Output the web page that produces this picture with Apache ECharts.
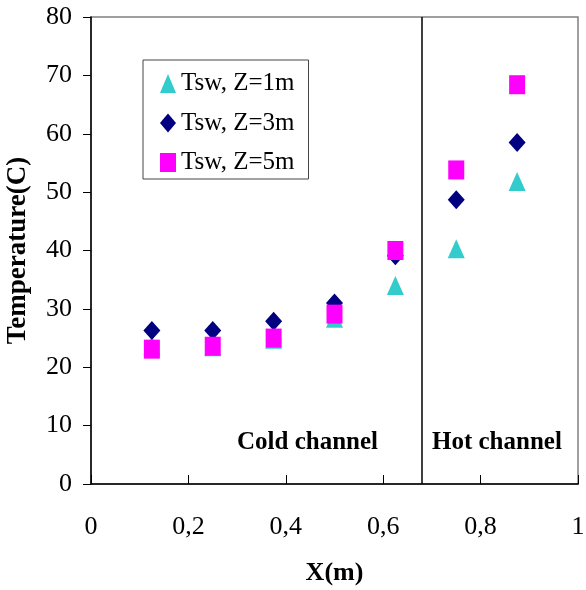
<!DOCTYPE html>
<html>
<head>
<meta charset="utf-8">
<script src="https://cdn.jsdelivr.net/npm/echarts@6/dist/echarts.min.js"></script>
<style>
  html, body { margin: 0; padding: 0; background: #fff; }
  #chart { width: 586px; height: 590px; }
</style>
</head>
<body>
<div id="chart"></div>
<script>
// positions along the channel (m)
const xPos = [0.125, 0.25, 0.375, 0.5, 0.625, 0.75, 0.875];
// wall temperature at each height
const tswZ1 = [23.7, 23.5, 24.8, 28.4, 34.0, 40.3, 51.8];
const tswZ3 = [26.3, 26.3, 27.9, 31.0, 39.1, 48.7, 58.5];
const tswZ5 = [23.1, 23.6, 25.0, 29.1, 40.0, 53.8, 68.4];
const seriesNames = ["Tsw, Z=1m", "Tsw, Z=3m", "Tsw, Z=5m"];
const dividerX = 0.677;

const font = "'Liberation Serif', 'Times New Roman', serif";
const pairs = vals => vals.map((v, i) => [xPos[i], v]);

const chart = echarts.init(document.getElementById("chart"));
chart.setOption({
  animation: false,
  grid: {
    left: 91, right: 8, top: 17, bottom: 106,
    outerBoundsMode: "none",
    show: true,
    borderColor: "#808080",
    borderWidth: 1.5,
  },
  legend: {
    orient: "vertical",
    left: 143,
    top: 60,
    padding: [11, 14, 4, 17],
    itemGap: 14.5,
    itemWidth: 16,
    itemHeight: 19,
    borderColor: "#444",
    borderWidth: 1,
    data: [
      { name: seriesNames[0], icon: "triangle" },
      { name: seriesNames[1], icon: "diamond" },
      { name: seriesNames[2], icon: "rect" },
    ],
    textStyle: {
      fontFamily: font,
      fontSize: 25,
      color: "#000",
    },
  },
  xAxis: {
    type: "value",
    min: 0,
    max: 1,
    interval: 0.2,
    name: "X(m)",
    nameLocation: "middle",
    nameGap: 76,
    nameTextStyle: { fontFamily: font, fontSize: 26, fontWeight: "bold", color: "#000" },
    axisLine: { lineStyle: { color: "#000", width: 1.5 } },
    axisTick: { inside: true, length: 9, lineStyle: { color: "#000" } },
    axisLabel: {
      margin: 30,
      fontFamily: font,
      fontSize: 26,
      color: "#000",
      formatter: v => String(v).replace(".", ","),
    },
    splitLine: { show: false },
  },
  yAxis: {
    type: "value",
    min: 0,
    max: 80,
    interval: 10,
    name: "Temperature(C)",
    nameLocation: "middle",
    nameGap: 59,
    nameTextStyle: { fontFamily: font, fontSize: 27, fontWeight: "bold", color: "#000" },
    axisLine: { lineStyle: { color: "#000", width: 1.5 } },
    axisTick: { length: 8, lineStyle: { color: "#000" } },
    axisLabel: { margin: 19, fontFamily: font, fontSize: 26, color: "#000" },
    splitLine: { show: false },
  },
  graphic: [
    {
      type: "text", left: 237, top: 430,
      style: { text: "Cold channel", fontFamily: font, fontSize: 25, fontWeight: "bold", fill: "#000" },
    },
    {
      type: "text", left: 432, top: 430,
      style: { text: "Hot channel", fontFamily: font, fontSize: 25, fontWeight: "bold", fill: "#000" },
    },
  ],
  series: [
    {
      name: seriesNames[0],
      type: "scatter",
      symbol: "triangle",
      symbolSize: [17, 19],
      itemStyle: { color: "#33CCCC", opacity: 1 },
      data: pairs(tswZ1),
      markLine: {
        silent: true,
        symbol: "none",
        label: { show: false },
        lineStyle: { color: "#000", width: 1.5, type: "solid" },
        data: [{ xAxis: dividerX }],
      },
    },
    {
      name: seriesNames[1],
      type: "scatter",
      symbol: "diamond",
      symbolSize: [17, 19],
      itemStyle: { color: "#000080", opacity: 1 },
      data: pairs(tswZ3),
    },
    {
      name: seriesNames[2],
      type: "scatter",
      symbol: "rect",
      symbolSize: [16, 19],
      itemStyle: { color: "#FF00FF", opacity: 1 },
      data: pairs(tswZ5),
    },
  ],
});
</script>
</body>
</html>
